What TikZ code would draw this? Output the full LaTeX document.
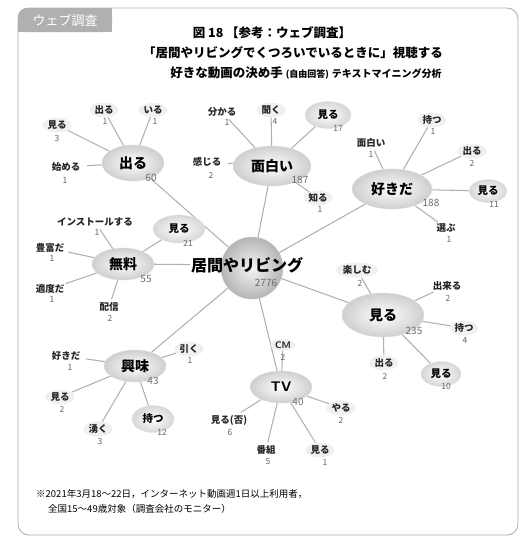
\documentclass[tikz,border=0pt]{standalone}
\usepackage{fontspec}
\setmainfont{Noto Sans CJK JP}
\usetikzlibrary{shapes.geometric,backgrounds}
\newcommand\myfs[1]{\fontsize{#1}{#1}\selectfont}
\tikzset{
  major/.style={ellipse, inner sep=0pt, shading=radial, inner color=white, outer color=gray!38, draw=gray!25, font=\myfs{14pt}\bfseries},
  leaf/.style={ellipse, inner sep=0.8pt, fill=gray!12, font=\myfs{9.5pt}\bfseries, text=black!85},
  leafnf/.style={ellipse, inner sep=0.8pt, font=\myfs{9.5pt}\bfseries, text=black!85},
  bigleaf/.style={ellipse, inner sep=0pt, shading=radial, inner color=white, outer color=gray!32, draw=gray!20, font=\myfs{10.5pt}\bfseries},
  cnt/.style={font=\myfs{8.5pt}, text=gray!80!black, inner sep=0pt},
  mcnt/.style={font=\myfs{10pt}, text=gray!85!black, inner sep=0pt},
  edge/.style={draw=gray!62, line width=1.05pt},
}
\begin{document}
\begin{tikzpicture}[x=1pt,y=-1pt]
\useasboundingbox (0,0) rectangle (532,541);
% frame and tab
\draw[gray!60, line width=0.9pt, rounded corners=11pt] (18,8) rectangle (518,535);
\fill[gray!62, rounded corners=9pt] (18,32) -- (18,8) -- (112,8) -- (112,32) -- cycle;
\fill[gray!62] (18,20) rectangle (30,32);
\fill[gray!62] (100,8) rectangle (112,32);
\node[text=white, font=\myfs{13pt}, anchor=center] (tab) at (65,20) {ウェブ調査};
% titles
\node[font=\myfs{12.5pt}\bfseries] (t1) at (272,33) {図 18 【参考：ウェブ調査】};
\node[font=\myfs{12.5pt}\bfseries] (t2) at (293,53) {「居間やリビングでくつろいでいるときに」視聴する};
\node[font=\myfs{12.5pt}\bfseries] (t3) at (306,73) {好きな動画の決め手 {\myfs{9pt}(自由回答)} {\myfs{10pt}テキストマイニング分析}};
% center
\node[circle, minimum size=62pt, inner sep=0pt, shading=radial, inner color=gray!8, outer color=gray!58, draw=gray!45] (ctr) at (252,268) {};
\node[font=\myfs{16pt}\bfseries, inner sep=1pt] (ctrtext) at (247,265) {居間やリビング};
\node[mcnt] (ctrc) at (266,283) {2776};
% majors
\node[major, minimum width=62pt, minimum height=36pt] (M1) at (133,163) {出る};
\node[mcnt] (M1c) at (151,178) {60};
\node[major, minimum width=78pt, minimum height=40pt] (M2) at (272,166) {面白い};
\node[mcnt] (M2c) at (300,180) {187};
\node[major, minimum width=80pt, minimum height=40pt] (M3) at (392,189) {好きだ};
\node[mcnt] (M3c) at (431,203) {188};
\node[major, minimum width=62pt, minimum height=32pt] (M4) at (123,264) {無料};
\node[mcnt] (M4c) at (146,279) {55};
\node[major, minimum width=82pt, minimum height=44pt] (M5) at (383,315) {見る};
\node[mcnt] (M5c) at (414,331) {235};
\node[major, minimum width=62pt, minimum height=32pt] (M6) at (135,366) {興味};
\node[mcnt] (M6c) at (153,381) {43};
\node[major, minimum width=62pt, minimum height=32pt, font=\myfs{14pt}\bfseries\sffamily] (M7) at (281,387) {TV};
\node[mcnt] (M7c) at (298,402) {40};
% leaves: 出る
\node[leaf] (a1) at (57,125) {見る};   \node[cnt] (a1c) at (57,138) {3};
\node[leaf] (a2) at (104,110) {出る};  \node[cnt] (a2c) at (105,121) {1};
\node[leaf] (a3) at (153,110) {いる};  \node[cnt] (a3c) at (155,121) {1};
\node[leafnf] (a4) at (66,167) {始める}; \node[cnt] (a4c) at (65,180) {1};
% 面白い
\node[leafnf] (b1) at (222,112) {分かる}; \node[cnt] (b1c) at (227,122) {1};
\node[leaf] (b2) at (271,110) {聞く};  \node[cnt] (b2c) at (275,121) {4};
\node[bigleaf, minimum width=46pt, minimum height=27pt] (b3) at (328,115) {見る}; \node[cnt] (b3c) at (338,128) {17};
\node[leafnf] (b4) at (207,162) {感じる}; \node[cnt] (b4c) at (211,175) {2};
\node[leaf] (b5) at (318,198) {知る};  \node[cnt] (b5c) at (320,209) {1};
% 好きだ
\node[leafnf] (c1) at (371,143) {面白い}; \node[cnt] (c1c) at (371,154) {1};
\node[leaf] (c2) at (432,120) {持つ};  \node[cnt] (c2c) at (433,131) {1};
\node[leaf] (c3) at (472,151) {出る};  \node[cnt] (c3c) at (472,163) {2};
\node[bigleaf, minimum width=38pt, minimum height=23pt] (c4) at (488,191) {見る}; \node[cnt] (c4c) at (494,204) {11};
\node[leafnf] (c5) at (446,228) {選ぶ}; \node[cnt] (c5c) at (449,239) {1};
% 無料
\node[leafnf] (d1) at (95,222) {インストールする}; \node[cnt] (d1c) at (97,232) {1};
\node[bigleaf, minimum width=52pt, minimum height=28pt] (d2) at (179,229) {見る}; \node[cnt] (d2c) at (188,243) {21};
\node[leafnf] (d3) at (50,248) {豊富だ}; \node[cnt] (d3c) at (52,258) {1};
\node[leafnf] (d4) at (50,289) {適度だ}; \node[cnt] (d4c) at (52,299) {1};
\node[leafnf] (d5) at (109,307) {配信}; \node[cnt] (d5c) at (110,318) {2};
% 見る
\node[leaf] (e1) at (357,270) {楽しむ}; \node[cnt] (e1c) at (360,283) {2};
\node[leafnf] (e2) at (447,286) {出来る}; \node[cnt] (e2c) at (448,298) {2};
\node[leaf] (e3) at (464,328) {持つ};  \node[cnt] (e3c) at (465,340) {4};
\node[leaf] (e4) at (384,363) {出る};  \node[cnt] (e4c) at (385,376) {2};
\node[bigleaf, minimum width=40pt, minimum height=25pt] (e5) at (441,374) {見る}; \node[cnt] (e5c) at (446,386) {10};
% 興味
\node[leafnf] (f1) at (66,356) {好きだ}; \node[cnt] (f1c) at (70,367) {1};
\node[leaf] (f2) at (60,397) {見る};  \node[cnt] (f2c) at (62,409) {2};
\node[leaf] (f3) at (189,349) {引く};  \node[cnt] (f3c) at (190,360) {1};
\node[leaf] (f4) at (98,429) {湧く};   \node[cnt] (f4c) at (100,441) {3};
\node[bigleaf, minimum width=42pt, minimum height=27pt] (f5) at (153,419) {持つ}; \node[cnt] (f5c) at (162,432) {12};
% TV
\node[leaf, font=\myfs{9.5pt}\bfseries\sffamily] (g1) at (283,345) {CM}; \node[cnt] (g1c) at (283,357) {2};
\node[leaf] (g2) at (341,408) {やる};  \node[cnt] (g2c) at (341,420) {2};
\node[leafnf] (g3) at (229,420) {見る(否)}; \node[cnt] (g3c) at (230,432) {6};
\node[leafnf] (g4) at (266,450) {番組}; \node[cnt] (g4c) at (268,462) {5};
\node[leaf] (g5) at (320,450) {見る};  \node[cnt] (g5c) at (325,462) {1};
% footnote
\node[anchor=west, font=\myfs{9.5pt}, inner sep=0pt] (fn1) at (36,494) {※2021年3月18～22日，インターネット動画週1日以上利用者，};
\node[anchor=west, font=\myfs{9.5pt}, inner sep=0pt] (fn2) at (48,509) {全国15～49歳対象（調査会社のモニター）};
% edges
\begin{scope}[on background layer]
\fill[white] (0,0) rectangle (532,541);
\draw[edge] (M1) -- (ctr);
\draw[edge] (M2) -- (ctr);
\draw[edge] (M3) -- (ctr);
\draw[edge] (M4) -- (ctrtext);
\draw[edge] (M5) -- (ctr);
\draw[edge] (M6) -- (ctr);
\draw[edge] (M7) -- (ctr);
\foreach \l in {a1,a2,a3,a4} \draw[edge] (M1) -- (\l);
\foreach \l in {b1,b2,b3,b4,b5} \draw[edge] (M2) -- (\l);
\foreach \l in {c1,c2,c3,c4,c5} \draw[edge] (M3) -- (\l);
\foreach \l in {d1,d2,d3,d4,d5} \draw[edge] (M4) -- (\l);
\foreach \l in {e1,e2,e3,e4,e5} \draw[edge] (M5) -- (\l);
\foreach \l in {f1,f2,f3,f4,f5} \draw[edge] (M6) -- (\l);
\foreach \l in {g1,g2,g3,g4,g5} \draw[edge] (M7) -- (\l);
\end{scope}
\end{tikzpicture}
\end{document}
